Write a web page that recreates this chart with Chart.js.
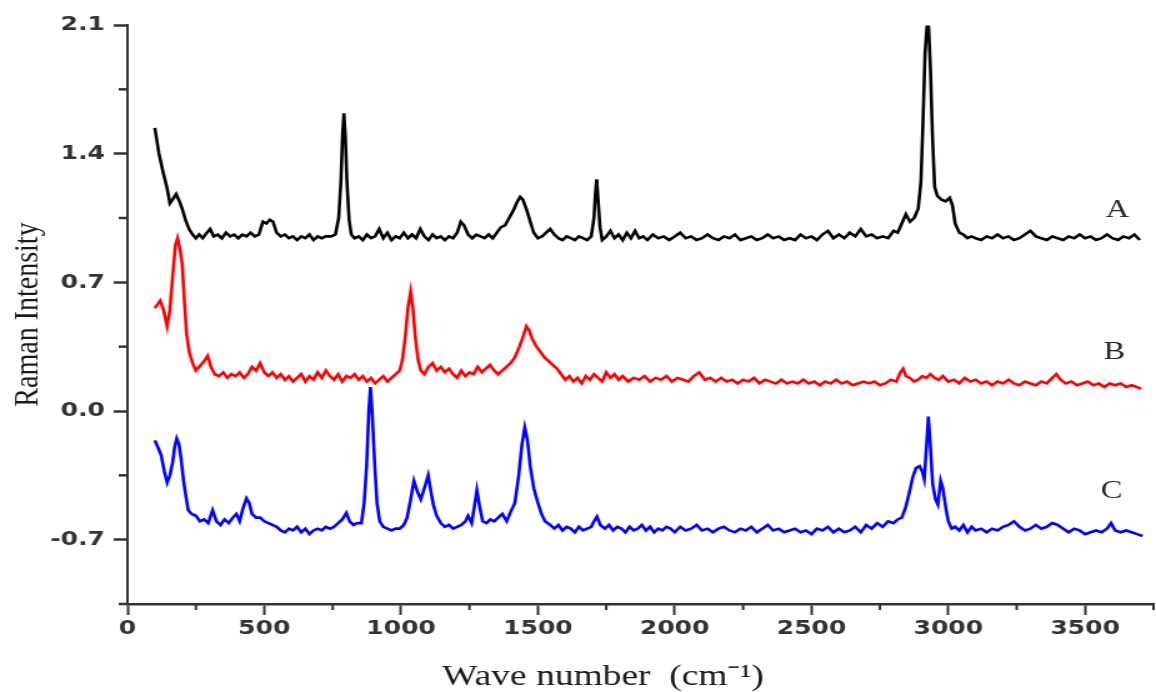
<!DOCTYPE html>
<html>
<head>
<meta charset="utf-8">
<script src="https://cdn.jsdelivr.net/npm/chart.js@4/dist/chart.umd.min.js"></script>
<style>
  html, body { margin: 0; padding: 0; background: #fff; }
</style>
</head>
<body>
<!-- the reference is a horizontally stretched figure, so the canvas is drawn narrow and stretched -->
<canvas id="raman" width="925" height="692" style="display:block;width:1156px;height:692px;"></canvas>
<script>
// Spectrum A (black)
const waveA = [100,115,130,145,155,165,178,190,200,212,225,238,250,262,275,290,302,315,330,345,360,375,390,405,420,435,450,465,480,495,508,520,532,545,560,575,590,605,620,635,650,665,680,695,710,725,745,760,772,780,786,791,796,802,810,818,830,845,860,875,890,905,920,935,950,965,980,995,1010,1025,1040,1055,1070,1085,1100,1115,1130,1145,1160,1175,1190,1205,1218,1230,1245,1260,1275,1290,1305,1320,1335,1350,1365,1380,1395,1410,1425,1435,1445,1460,1472,1485,1500,1515,1530,1545,1560,1575,1590,1605,1620,1635,1650,1665,1680,1695,1705,1710,1715,1720,1727,1735,1750,1765,1780,1795,1810,1825,1840,1855,1870,1885,1900,1920,1940,1960,1980,2000,2020,2040,2060,2080,2100,2120,2140,2160,2180,2200,2220,2240,2260,2280,2300,2320,2340,2360,2380,2400,2420,2440,2460,2480,2500,2520,2540,2560,2580,2600,2620,2640,2660,2680,2700,2720,2740,2760,2780,2800,2815,2830,2845,2860,2875,2890,2900,2908,2915,2922,2928,2935,2942,2950,2960,2975,2990,3005,3015,3025,3040,3055,3070,3085,3100,3120,3140,3160,3180,3200,3220,3240,3260,3280,3300,3320,3340,3360,3380,3400,3420,3440,3460,3480,3500,3520,3540,3560,3580,3600,3620,3640,3660,3680,3700];
const ramanA = [1.54,1.40,1.30,1.21,1.13,1.15,1.18,1.14,1.10,1.04,0.99,0.96,0.94,0.96,0.94,0.97,0.99,0.95,0.96,0.94,0.97,0.95,0.96,0.94,0.96,0.95,0.97,0.95,0.96,1.03,1.02,1.04,1.03,0.97,0.95,0.96,0.94,0.95,0.93,0.95,0.94,0.96,0.93,0.95,0.94,0.95,0.95,0.96,1.05,1.25,1.50,1.62,1.50,1.25,1.04,0.96,0.94,0.95,0.93,0.96,0.94,0.95,0.99,0.94,0.97,0.93,0.95,0.94,0.97,0.94,0.96,0.94,0.99,0.95,0.93,0.96,0.94,0.95,0.93,0.95,0.94,0.97,1.03,1.01,0.96,0.94,0.96,0.95,0.94,0.96,0.94,0.97,1.00,1.01,1.05,1.09,1.14,1.165,1.15,1.09,1.03,0.97,0.94,0.95,0.97,0.99,0.96,0.94,0.93,0.95,0.94,0.93,0.95,0.94,0.93,0.95,1.05,1.18,1.26,1.15,1.00,0.93,0.95,0.98,0.94,0.96,0.93,0.97,0.94,0.98,0.94,0.95,0.93,0.96,0.94,0.95,0.93,0.95,0.97,0.94,0.95,0.93,0.94,0.96,0.94,0.93,0.95,0.94,0.96,0.93,0.94,0.95,0.93,0.94,0.96,0.94,0.95,0.93,0.94,0.93,0.96,0.94,0.95,0.93,0.96,0.98,0.94,0.96,0.94,0.97,0.95,0.99,0.95,0.96,0.94,0.95,0.94,0.98,0.97,1.02,1.07,1.03,1.05,1.10,1.25,1.60,1.95,2.09,2.09,1.85,1.50,1.22,1.17,1.15,1.14,1.16,1.12,1.02,0.97,0.96,0.94,0.95,0.94,0.93,0.95,0.94,0.96,0.94,0.95,0.93,0.94,0.96,0.98,0.95,0.94,0.93,0.95,0.94,0.93,0.95,0.94,0.96,0.94,0.95,0.93,0.94,0.96,0.94,0.93,0.95,0.94,0.96,0.93];

// Spectrum B (red)
const waveB = [100,110,120,132,145,155,165,175,183,192,200,208,216,226,238,250,262,280,293,305,319,335,350,365,380,395,410,425,440,455,470,485,500,515,530,545,560,575,590,605,620,635,650,665,680,695,710,725,740,755,770,785,800,815,830,845,860,875,890,905,920,935,950,965,980,995,1005,1015,1025,1035,1043,1052,1062,1072,1085,1100,1115,1130,1145,1160,1175,1190,1205,1220,1235,1250,1265,1280,1295,1310,1325,1340,1355,1370,1385,1400,1415,1430,1445,1458,1468,1480,1495,1510,1525,1540,1555,1570,1585,1600,1615,1630,1645,1660,1675,1690,1705,1720,1735,1750,1765,1780,1795,1810,1830,1850,1870,1890,1910,1930,1950,1970,1990,2010,2030,2050,2070,2090,2110,2130,2150,2170,2190,2210,2230,2250,2270,2290,2310,2330,2350,2370,2390,2410,2430,2450,2470,2490,2510,2530,2550,2570,2590,2610,2630,2650,2670,2690,2710,2730,2750,2770,2790,2810,2825,2835,2845,2860,2875,2890,2905,2920,2935,2950,2965,2980,3000,3020,3040,3060,3080,3100,3120,3140,3160,3180,3200,3220,3240,3260,3280,3300,3320,3340,3360,3380,3395,3410,3430,3450,3470,3490,3510,3530,3550,3570,3590,3610,3630,3650,3670,3690,3705];
const ramanB = [0.56,0.58,0.60,0.55,0.46,0.55,0.73,0.90,0.94,0.88,0.80,0.60,0.42,0.32,0.26,0.22,0.24,0.27,0.30,0.24,0.20,0.19,0.21,0.18,0.20,0.19,0.21,0.18,0.20,0.24,0.22,0.26,0.21,0.19,0.21,0.18,0.20,0.17,0.19,0.16,0.18,0.20,0.16,0.19,0.17,0.21,0.18,0.22,0.19,0.17,0.20,0.16,0.19,0.18,0.20,0.17,0.19,0.16,0.18,0.15,0.17,0.19,0.16,0.18,0.20,0.22,0.28,0.40,0.56,0.65,0.56,0.40,0.28,0.22,0.20,0.24,0.26,0.22,0.24,0.21,0.23,0.20,0.18,0.22,0.19,0.21,0.20,0.24,0.21,0.23,0.25,0.22,0.20,0.22,0.24,0.26,0.29,0.34,0.40,0.46,0.44,0.39,0.35,0.32,0.29,0.27,0.25,0.23,0.20,0.17,0.19,0.16,0.18,0.15,0.19,0.17,0.20,0.18,0.16,0.21,0.18,0.20,0.17,0.19,0.16,0.18,0.17,0.19,0.16,0.18,0.17,0.19,0.16,0.18,0.17,0.16,0.19,0.21,0.17,0.18,0.16,0.18,0.16,0.17,0.15,0.17,0.16,0.18,0.15,0.17,0.16,0.15,0.17,0.15,0.16,0.15,0.17,0.15,0.16,0.14,0.16,0.15,0.17,0.15,0.16,0.14,0.15,0.16,0.15,0.16,0.14,0.15,0.17,0.16,0.21,0.23,0.19,0.18,0.16,0.17,0.19,0.18,0.20,0.18,0.17,0.19,0.16,0.17,0.15,0.18,0.16,0.17,0.15,0.16,0.14,0.16,0.15,0.17,0.15,0.14,0.16,0.15,0.14,0.16,0.15,0.18,0.20,0.17,0.15,0.16,0.14,0.15,0.16,0.14,0.15,0.13,0.15,0.14,0.15,0.13,0.14,0.13,0.12];

// Spectrum C (blue)
const waveC = [100,112,123,135,145,155,165,172,180,188,196,205,212,222,235,250,265,280,295,311,325,340,355,370,385,398,410,422,435,445,455,470,485,500,515,530,545,560,575,590,605,620,635,650,665,680,695,710,725,740,755,770,785,800,812,826,840,855,865,874,882,888,894,904,912,922,935,950,965,980,995,1010,1022,1035,1047,1060,1072,1085,1099,1108,1118,1130,1145,1160,1175,1190,1205,1220,1235,1245,1258,1268,1277,1287,1298,1312,1326,1340,1355,1370,1386,1400,1416,1430,1442,1452,1462,1472,1485,1500,1513,1526,1545,1560,1575,1590,1605,1620,1635,1650,1665,1680,1695,1705,1716,1728,1745,1760,1775,1790,1805,1820,1835,1850,1865,1880,1895,1910,1925,1940,1955,1970,1985,2000,2020,2040,2060,2080,2100,2120,2140,2160,2180,2200,2220,2240,2260,2280,2300,2320,2340,2360,2380,2400,2420,2440,2460,2480,2500,2520,2540,2560,2580,2600,2620,2640,2660,2680,2700,2720,2740,2760,2780,2800,2815,2830,2845,2858,2870,2882,2895,2905,2912,2920,2927,2934,2943,2953,2962,2972,2980,2990,3000,3012,3025,3040,3055,3070,3085,3100,3120,3140,3160,3180,3200,3220,3240,3260,3280,3300,3320,3340,3360,3380,3400,3420,3440,3460,3480,3500,3520,3540,3560,3580,3595,3610,3630,3650,3670,3690,3710];
const ramanC = [-0.16,-0.20,-0.24,-0.33,-0.39,-0.35,-0.28,-0.20,-0.15,-0.18,-0.26,-0.38,-0.45,-0.54,-0.56,-0.57,-0.60,-0.59,-0.61,-0.54,-0.60,-0.62,-0.59,-0.61,-0.58,-0.56,-0.60,-0.53,-0.475,-0.50,-0.56,-0.58,-0.58,-0.60,-0.61,-0.62,-0.63,-0.65,-0.66,-0.64,-0.65,-0.63,-0.66,-0.64,-0.67,-0.65,-0.64,-0.65,-0.63,-0.64,-0.63,-0.61,-0.59,-0.555,-0.60,-0.62,-0.61,-0.61,-0.50,-0.30,0.00,0.13,0.00,-0.30,-0.50,-0.60,-0.63,-0.64,-0.65,-0.64,-0.64,-0.62,-0.58,-0.48,-0.38,-0.44,-0.48,-0.42,-0.35,-0.43,-0.51,-0.57,-0.61,-0.63,-0.62,-0.64,-0.63,-0.62,-0.60,-0.57,-0.61,-0.52,-0.43,-0.52,-0.60,-0.61,-0.59,-0.60,-0.58,-0.56,-0.60,-0.55,-0.50,-0.35,-0.18,-0.09,-0.16,-0.30,-0.42,-0.50,-0.56,-0.60,-0.62,-0.64,-0.62,-0.65,-0.63,-0.64,-0.66,-0.63,-0.65,-0.64,-0.63,-0.60,-0.575,-0.62,-0.64,-0.62,-0.65,-0.63,-0.64,-0.66,-0.63,-0.65,-0.64,-0.62,-0.65,-0.63,-0.66,-0.64,-0.65,-0.63,-0.64,-0.66,-0.63,-0.65,-0.64,-0.62,-0.65,-0.64,-0.66,-0.64,-0.63,-0.65,-0.66,-0.64,-0.65,-0.63,-0.66,-0.64,-0.62,-0.65,-0.64,-0.66,-0.65,-0.64,-0.66,-0.65,-0.67,-0.64,-0.65,-0.63,-0.66,-0.64,-0.66,-0.65,-0.63,-0.66,-0.62,-0.64,-0.61,-0.63,-0.60,-0.61,-0.59,-0.58,-0.52,-0.44,-0.36,-0.31,-0.30,-0.33,-0.37,-0.20,-0.03,-0.18,-0.40,-0.48,-0.51,-0.38,-0.42,-0.52,-0.60,-0.64,-0.63,-0.65,-0.62,-0.66,-0.63,-0.65,-0.64,-0.66,-0.64,-0.65,-0.63,-0.62,-0.60,-0.63,-0.65,-0.64,-0.62,-0.64,-0.63,-0.61,-0.62,-0.64,-0.66,-0.64,-0.65,-0.67,-0.66,-0.65,-0.66,-0.64,-0.61,-0.65,-0.66,-0.65,-0.66,-0.67,-0.68];

const seriesNames = ['A', 'B', 'C'];
const seriesColors = ['#000000', '#ff0000', '#0000ff'];

// axis ticks
const xMajor = [0, 500, 1000, 1500, 2000, 2500, 3000, 3500];
const xMinor = [250, 750, 1250, 1750, 2250, 2750, 3250, 3750];
const yMajor = [-0.7, 0.0, 0.7, 1.4, 2.1];
const yMinor = [-1.05, -0.35, 0.35, 1.05, 1.75];

// where the A / B / C tags sit, in data units
const tagAt = [[3618, 1.09], [3607, 0.32], [3597, -0.435]];

const toPoints = (xs, ys) => xs.map((x, i) => ({ x: x, y: ys[i] }));
const waves = [waveA, waveB, waveC];
const ramans = [ramanA, ramanB, ramanC];

const axisColor = '#333333';

const extras = {
  id: 'extras',
  afterDraw(chart) {
    const ctx = chart.ctx;
    const xs = chart.scales.x, ys = chart.scales.y;
    const area = chart.chartArea;
    ctx.save();
    ctx.strokeStyle = axisColor;
    // minor ticks, shorter than the major ones
    ctx.lineWidth = 2;
    xMinor.forEach(v => {
      const px = xs.getPixelForValue(v);
      ctx.beginPath();
      ctx.moveTo(px, area.bottom);
      ctx.lineTo(px, area.bottom + 6);
      ctx.stroke();
    });
    ctx.lineWidth = 2.5;
    yMinor.forEach(v => {
      const py = ys.getPixelForValue(v);
      ctx.beginPath();
      ctx.moveTo(area.left, py);
      ctx.lineTo(area.left - 7, py);
      ctx.stroke();
    });
    // series tags
    ctx.fillStyle = '#2a2a2a';
    ctx.font = '26px "Liberation Serif", "Times New Roman", serif';
    ctx.textAlign = 'center';
    ctx.textBaseline = 'middle';
    seriesNames.forEach((name, i) => {
      ctx.fillText(name, xs.getPixelForValue(tagAt[i][0]), ys.getPixelForValue(tagAt[i][1]));
    });
    ctx.restore();
  }
};

new Chart(document.getElementById('raman'), {
  type: 'line',
  data: {
    datasets: seriesNames.map((name, i) => ({
      label: name,
      data: toPoints(waves[i], ramans[i]),
      borderColor: seriesColors[i],
      borderWidth: 2.6,
      pointRadius: 0,
      tension: 0,
      fill: false
    }))
  },
  options: {
    responsive: false,
    devicePixelRatio: 1,
    animation: false,
    layout: { padding: { top: 25, right: 2, left: 0, bottom: 0 } },
    plugins: { legend: { display: false }, tooltip: { enabled: false } },
    scales: {
      x: {
        type: 'linear',
        min: 0,
        max: 3750,
        afterBuildTicks: s => { s.ticks = xMajor.map(v => ({ value: v })); },
        afterFit: s => { s.height = 88; },
        grid: { drawOnChartArea: false, drawTicks: true, tickLength: 11, tickWidth: 2, tickColor: axisColor },
        border: { display: true, color: axisColor, width: 2.5 },
        ticks: {
          color: axisColor,
          padding: 2,
          maxRotation: 0,
          font: { family: '"DejaVu Sans", sans-serif', size: 20, weight: 'bold' },
          callback: v => String(v)
        },
        title: {
          display: true,
          // trailing spaces nudge the centred title a little to the left, as in the figure
          text: 'Wave number  (cm\u207B\u00B9)        ',
          color: '#1a1a1a',
          padding: { top: 0, bottom: 0 },
          font: { family: '"Liberation Serif", "Times New Roman", serif', size: 30, lineHeight: 1 }
        }
      },
      y: {
        type: 'linear',
        min: -1.05,
        max: 2.1,
        afterBuildTicks: s => { s.ticks = yMajor.map(v => ({ value: v })); },
        afterFit: s => { s.width = 102; },
        grid: { drawOnChartArea: false, drawTicks: true, tickLength: 11, tickWidth: 2.5, tickColor: axisColor },
        border: { display: true, color: axisColor, width: 2 },
        ticks: {
          color: axisColor,
          padding: 7,
          font: { family: '"DejaVu Sans", sans-serif', size: 20, weight: 'bold' },
          callback: v => Number(v).toFixed(1)
        },
        title: {
          display: true,
          text: 'Raman Intensity',
          color: '#1a1a1a',
          padding: { top: 6, bottom: 0 },
          font: { family: '"Liberation Serif", "Times New Roman", serif', size: 28 }
        }
      }
    }
  },
  plugins: [extras]
});
</script>
</body>
</html>
